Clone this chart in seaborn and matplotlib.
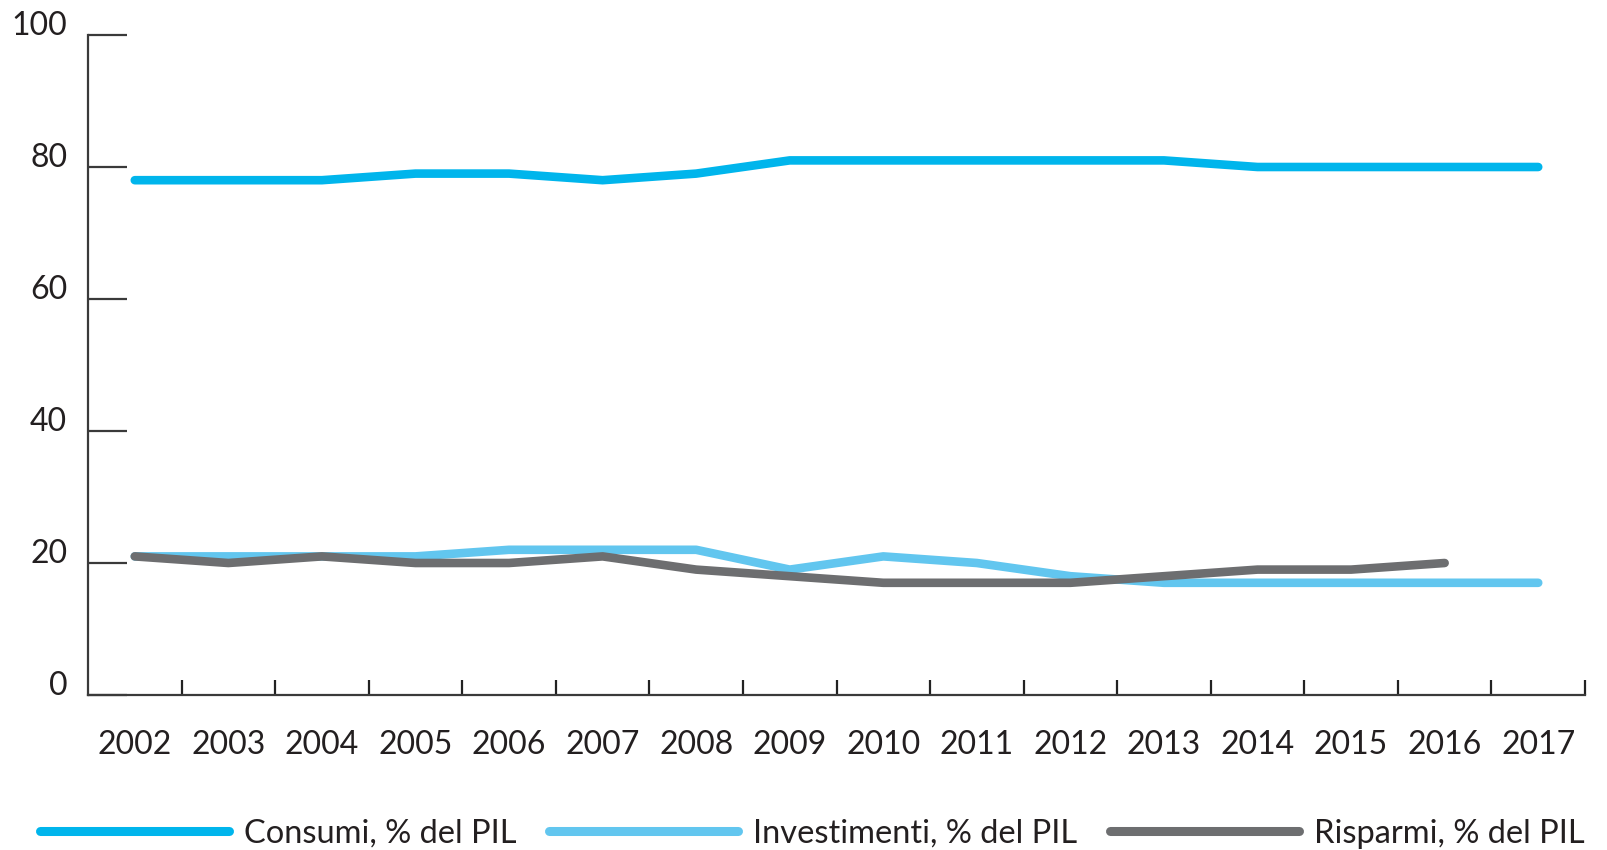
import pandas as pd
import matplotlib.pyplot as plt
import seaborn as sns
from matplotlib.ticker import FixedLocator

years = list(range(2002, 2018))
consumi = [78, 78, 78, 79, 79, 78, 79, 81, 81, 81, 81, 81, 80, 80, 80, 80]
investimenti = [21, 21, 21, 21, 22, 22, 22, 19, 21, 20, 18, 17, 17, 17, 17, 17]
risparmi = [21, 20, 21, 20, 20, 21, 19, 18, 17, 17, 17, 18, 19, 19, 20]

labels = ["Consumi, % del PIL", "Investimenti, % del PIL", "Risparmi, % del PIL"]
colors = ["#00b5ec", "#62c6ef", "#6d6e70"]

rows = []
for y, v in zip(years, consumi):
    rows.append((y, v, labels[0]))
for y, v in zip(years, investimenti):
    rows.append((y, v, labels[1]))
for y, v in zip(years, risparmi):
    rows.append((y, v, labels[2]))
df = pd.DataFrame(rows, columns=["anno", "valore", "serie"])

sns.set_style("white")
plt.rcParams['font.family'] = ['Lato', 'DejaVu Sans']
plt.rcParams['lines.solid_capstyle'] = 'round'
text_col = "#231f20"

fig = plt.figure(figsize=(16.08, 8.5), dpi=100)
ax = fig.add_axes([88 / 1608, 1 - 695 / 850, (1585 - 88) / 1608, (695 - 35) / 850])

sns.lineplot(data=df, x="anno", y="valore", hue="serie", hue_order=labels,
             palette=colors, linewidth=6.2, ax=ax, legend=False)

ax.set_xlim(2001.5, 2017.5)
ax.set_ylim(0, 100)
ax.set_xlabel("")
ax.set_ylabel("")

for s in ["top", "right"]:
    ax.spines[s].set_visible(False)
for s in ["left", "bottom"]:
    ax.spines[s].set_color("#3a3a3a")
    ax.spines[s].set_linewidth(1.6)

ax.set_xticks(years)
ax.set_xticklabels([str(y) for y in years])
ax.xaxis.set_minor_locator(FixedLocator([y + 0.5 for y in years]))
ax.tick_params(axis="x", which="major", bottom=True, length=0, pad=25,
               labelsize=23, labelcolor=text_col)
ax.tick_params(axis="x", which="minor", bottom=True, direction="in", length=11,
               width=1.6, color="#222222")

ax.set_yticks([0, 20, 40, 60, 80, 100])
ax.tick_params(axis="y", left=True, direction="in", length=28, width=1.6, color="#3a3a3a",
               pad=15, labelsize=23, labelcolor=text_col)
for t in ax.get_yticklabels():
    t.set_va("baseline")

handles = [plt.Line2D([0], [0], color=c, lw=6.5) for c in colors]
fig.legend(handles, labels, loc="center", bbox_to_anchor=(0.505, 0.019), ncol=3,
           frameon=False, fontsize=23.5, handlelength=5.8, handletextpad=0.45,
           columnspacing=1.0, labelcolor=text_col)

fig.savefig("out.png", dpi=100)
